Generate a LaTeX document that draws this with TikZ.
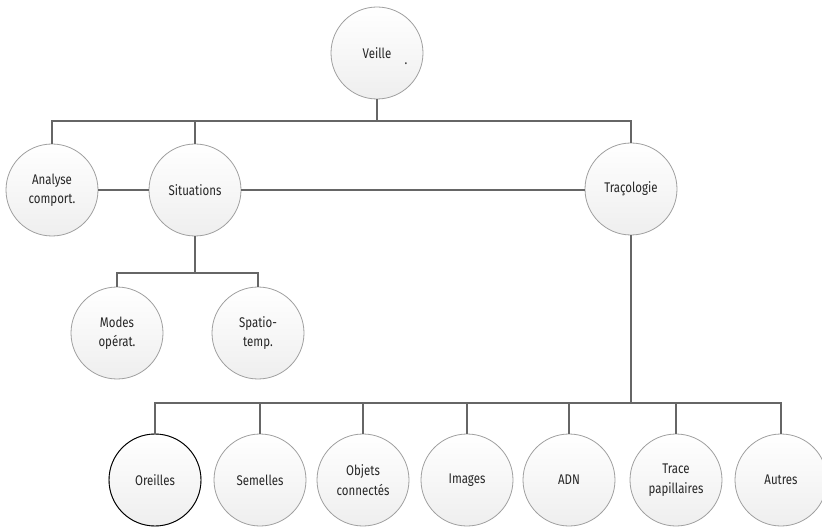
\documentclass[tikz,border=0pt]{standalone}
\usepackage{fontspec}
\setmainfont{Fira Sans}[FakeStretch=0.82]
\usepackage{xcolor}
\usepackage{tikz}

\tikzset{
  blob/.style={circle, draw=gray!75, line width=0.8pt, top color=white, bottom color=gray!13,
    minimum size=92pt, inner sep=0pt, align=center, text=black!85,
    font=\fontsize{14}{19.5}\selectfont},
  link/.style={draw=black!60, line width=1.2pt}
}

\begin{document}
\begin{tikzpicture}[x=1pt,y=-1pt]
		\useasboundingbox (0,0) rectangle (822,529);
		
		\node[blob] (veille) at (377,53) {Veille};
		\node[text=black!85, font=\fontsize{14}{16}\selectfont] (dot) at (406,64) {.};
		
		\node[blob] (ana) at (52,190) {Analyse\\comport.};
		\node[blob] (sit) at (195,190) {Situations};
		\node[blob] (trac) at (631,189) {Traçologie};
		
		\node[blob] (modes) at (117,333) {Modes\\opérat.};
		\node[blob] (spatio) at (258,333) {Spatio-\\temp.};
		
		\foreach \x/\name/\txt in {155/oreilles/Oreilles,260/semelles/Semelles,363/objets/{Objets\\connectés},467/images/Images,569/adn/ADN,676/trace/{Trace\\papillaires},781/autres/Autres}
		{
		\node[blob] (\name) at (\x,480) {\txt};
		}
		\draw[black, line width=0.9pt] (oreilles) circle (46pt);
		
		\coordinate (bus1) at (0,121);
		\coordinate (bus2) at (0,273);
		\coordinate (bus3) at (0,403);
		
		\draw[link] (veille.south) -- (veille.south |- bus1);
		\draw[link] (ana.north) -- (ana.north |- bus1) -- (trac.north |- bus1) -- (trac.north);
		\draw[link] (sit.north) -- (sit.north |- bus1);
		\draw[link] (ana.east) -- (sit.west);
		\draw[link] (sit.east) -- (sit.east -| trac.west);
		
		\draw[link] (sit.south) -- (sit.south |- bus2);
		\draw[link] (modes.north) -- (modes.north |- bus2) -- (spatio.north |- bus2) -- (spatio.north);
		
		\draw[link] (trac.south) -- (trac.south |- bus3);
		\draw[link] (oreilles.north) -- (oreilles.north |- bus3) -- (autres.north |- bus3) -- (autres.north);
		\foreach \name in {semelles,objets,images,adn,trace}
		{
		\draw[link] (\name.north) -- (\name.north |- bus3);
		}
	\end{tikzpicture}
\end{document}
